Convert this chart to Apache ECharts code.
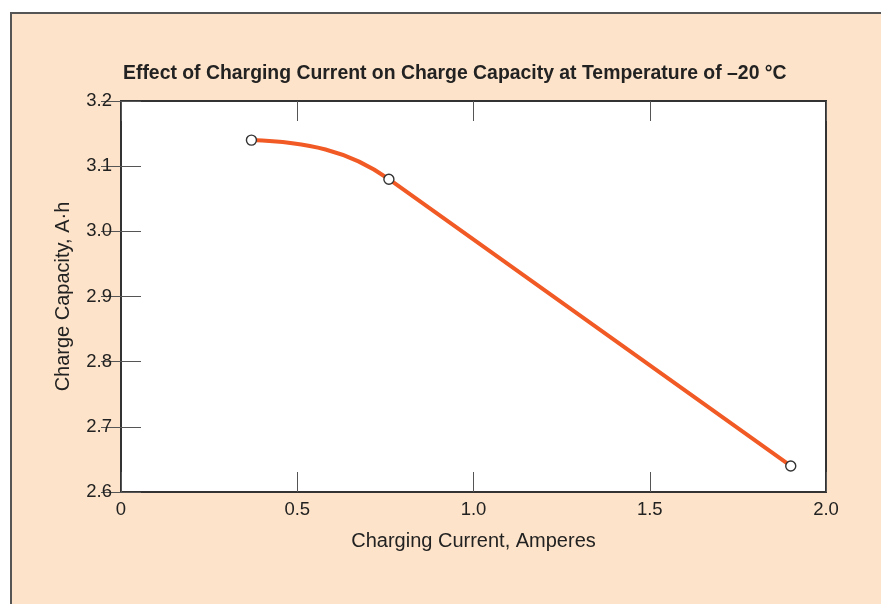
<!DOCTYPE html>
<html>
<head>
<meta charset="utf-8">
<script src="https://cdn.jsdelivr.net/npm/echarts@6/dist/echarts.min.js"></script>
<style>
  html, body { margin: 0; padding: 0; background: #ffffff; }
  #frame { position: absolute; left: 10px; top: 12px; width: 900px; height: 620px;
           background: #fde3c9; border-left: 2px solid #555; border-top: 2px solid #555; }
  #chart { position: absolute; left: 0; top: 0; width: 881px; height: 604px; }
</style>
</head>
<body>
<div id="frame"></div>
<div id="chart"></div>
<script>
const titleText = 'Effect of Charging Current on Charge Capacity at Temperature of \u201320 \u00B0C';
const xAxisTitle = 'Charging Current, Amperes';
const yAxisTitle = 'Charge Capacity, A\u00B7h';
const currentAmps = [0.37, 0.76, 1.90];
const capacityAh = [3.14, 3.08, 2.64];
const xTicks = [0, 0.5, 1.0, 1.5, 2.0];
const yTicks = [2.6, 2.7, 2.8, 2.9, 3.0, 3.1, 3.2];

const FONT = '"Liberation Sans", Arial, Helvetica, sans-serif';
const points = currentAmps.map((x, i) => [x, capacityAh[i]]);
const lineColor = '#f15a24';

const chart = echarts.init(document.getElementById('chart'), null, { renderer: 'canvas' });

const tickStyle = { show: true, inside: true, length: 20, lineStyle: { color: '#555', width: 1 } };

chart.setOption({
  backgroundColor: 'transparent',
  animation: false,
  title: {
    text: titleText,
    left: 118, top: 59,
    textStyle: { fontFamily: FONT, fontSize: 19.4, fontWeight: 'bold', color: '#222' }
  },
  grid: {
    left: 121, top: 101, right: 55, bottom: 112,
    show: true, backgroundColor: '#ffffff', borderColor: '#333', borderWidth: 2
  },
  xAxis: [{
    type: 'value', min: xTicks[0], max: xTicks[xTicks.length - 1], interval: 0.5,
    position: 'bottom',
    name: xAxisTitle, nameLocation: 'middle', nameGap: 39,
    nameTextStyle: { fontFamily: FONT, fontSize: 20, color: '#222' },
    axisLine: { show: true, lineStyle: { color: '#333', width: 2 } },
    axisTick: tickStyle,
    splitLine: { show: false },
    axisLabel: {
      fontFamily: FONT, fontSize: 18.5, color: '#222', margin: 8,
      formatter: v => (v === 0 ? '0' : v.toFixed(1))
    }
  }, {
    type: 'value', min: xTicks[0], max: xTicks[xTicks.length - 1], interval: 0.5,
    position: 'top',
    axisLine: { show: true, lineStyle: { color: '#333', width: 2 } },
    axisTick: tickStyle, axisLabel: { show: false }, splitLine: { show: false }
  }],
  yAxis: [{
    type: 'value', min: yTicks[0], max: yTicks[yTicks.length - 1], interval: 0.1,
    position: 'left',
    name: yAxisTitle, nameLocation: 'middle', nameGap: 48, nameRotate: 90,
    nameTextStyle: { fontFamily: FONT, fontSize: 20, color: '#222' },
    axisLine: { show: true, lineStyle: { color: '#333', width: 2 } },
    axisTick: tickStyle,
    splitLine: { show: false },
    axisLabel: {
      fontFamily: FONT, fontSize: 18.5, color: '#222', margin: 9,
      formatter: v => v.toFixed(1)
    }
  }, {
    type: 'value', min: yTicks[0], max: yTicks[yTicks.length - 1], interval: 0.1,
    position: 'right',
    axisLine: { show: true, lineStyle: { color: '#333', width: 2 } },
    axisTick: tickStyle, axisLabel: { show: false }, splitLine: { show: false }
  }],
  series: [{
    type: 'custom',
    xAxisIndex: 0, yAxisIndex: 0,
    data: points,
    silent: true,
    z: 3,
    renderItem: function (params, api) {
      if (params.dataIndex !== 0) return null;
      const p = points.map(d => api.coord(d));
      const [p1, p2, p3] = p;
      const dx = p2[0] - p1[0];
      const segLen = Math.hypot(p2[0] - p1[0], p2[1] - p1[1]);
      const ux = p3[0] - p2[0], uy = p3[1] - p2[1];
      const ul = Math.hypot(ux, uy);
      const cp1 = [p1[0] + 0.4 * dx, p1[1] + 0.015 * dx];
      const cp2 = [p2[0] - 0.35 * segLen * ux / ul, p2[1] - 0.35 * segLen * uy / ul];
      const style = { stroke: lineColor, lineWidth: 4, fill: null, lineCap: 'round', lineJoin: 'round' };
      return {
        type: 'group',
        children: [{
          type: 'bezierCurve',
          shape: { x1: p1[0], y1: p1[1], cpx1: cp1[0], cpy1: cp1[1], cpx2: cp2[0], cpy2: cp2[1], x2: p2[0], y2: p2[1] },
          style: style
        }, {
          type: 'line',
          shape: { x1: p2[0], y1: p2[1], x2: p3[0], y2: p3[1] },
          style: style
        }]
      };
    }
  }, {
    type: 'scatter',
    xAxisIndex: 0, yAxisIndex: 0,
    data: points,
    symbol: 'circle',
    symbolSize: 10,
    z: 5,
    itemStyle: { color: '#ffffff', borderColor: '#333', borderWidth: 1.4, opacity: 1 }
  }]
});
</script>
</body>
</html>
